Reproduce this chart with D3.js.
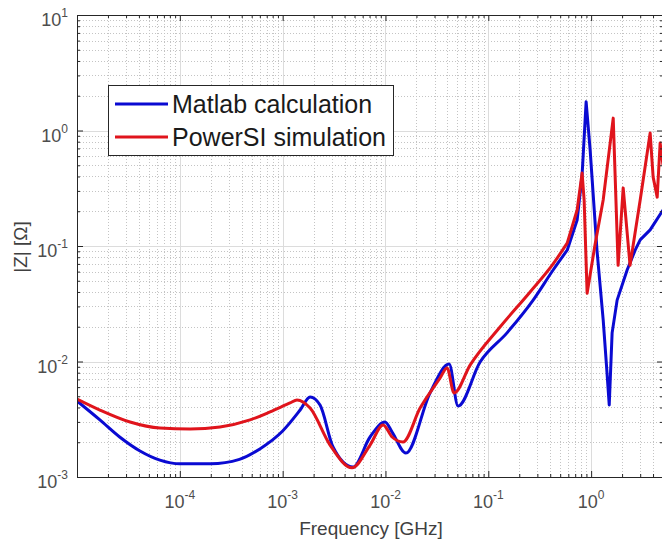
<!DOCTYPE html>
<html>
<head>
<meta charset="utf-8">
<script src="https://cdn.jsdelivr.net/npm/d3@7"></script>
<style>
  body { margin: 0; background: #fff; }
  svg { display: block; font-family: "Liberation Sans", Arial, sans-serif; }
</style>
</head>
<body>
<svg width="662" height="542"></svg>
<script>
// series (frequency in GHz, |Z| in ohm)
var seriesNames = ['Matlab calculation', 'PowerSI simulation'];
var seriesColors = ['#0a0ad2', '#e0141c'];

var matlabFreq = [1e-5, 1.67e-5, 2.6e-5, 4.1e-5, 6.4e-5, 1e-4, 2e-4, 3.8e-4, 6e-4,
    1e-3, 1.48e-3, 1.85e-3, 2.31e-3, 3.09e-3, 4.84e-3, 7.08e-3, 9.9e-3, 0.0116, 0.0158,
    0.0271, 0.0416, 0.0508, 0.0832, 0.152, 0.273, 0.427, 0.585, 0.731, 0.817,
    0.894, 0.978, 1.14, 1.31, 1.42, 1.50, 1.60, 1.79, 2.24, 2.68, 3.0, 3.75, 5.0];
var matlabZ = [4.55e-3, 3.12e-3, 2.22e-3, 1.68e-3, 1.40e-3, 1.30e-3, 1.30e-3, 1.42e-3, 1.75e-3,
    2.5e-3, 3.8e-3, 4.93e-3, 4.2e-3, 1.82e-3, 1.22e-3, 2.22e-3, 2.99e-3, 2.45e-3, 1.61e-3,
    5.33e-3, 9.5e-3, 4.12e-3, 9.9e-3, 0.0177, 0.034, 0.062, 0.092, 0.168, 0.412,
    1.77, 0.678, 0.092, 0.0229, 0.0085, 4.2e-3, 0.0177, 0.034, 0.062, 0.092, 0.113, 0.138, 0.205];

var powersiFreq = [1e-5, 1.67e-5, 3.28e-5, 6.4e-5, 1.26e-4, 2.46e-4, 4.82e-4, 7.54e-4, 1.18e-3, 1.38e-3,
    1.85e-3, 2.89e-3, 4.73e-3, 7.08e-3, 9.48e-3, 0.0116, 0.0148, 0.0217, 0.034, 0.0397,
    0.0465, 0.0665, 0.130, 0.255, 0.427, 0.585, 0.731, 0.817, 0.855, 0.914,
    1.09, 1.31, 1.64, 1.83, 2.05, 2.39, 3.0, 3.75, 4.01, 4.39, 4.69, 5.0];
var powersiZ = [4.73e-3, 3.80e-3, 2.99e-3, 2.65e-3, 2.60e-3, 2.71e-3, 3.12e-3, 3.66e-3, 4.38e-3, 4.65e-3,
    3.95e-3, 1.89e-3, 1.20e-3, 1.89e-3, 2.82e-3, 2.22e-3, 2.01e-3, 3.95e-3, 7.2e-3, 8.8e-3,
    5.33e-3, 9.3e-3, 0.0199, 0.040, 0.070, 0.106, 0.205, 0.428, 0.25, 0.039,
    0.102, 0.25, 1.28, 0.068, 0.318, 0.068, 0.25, 0.95, 0.395, 0.265, 0.78, 0.50];

var xTickExp = [-4, -3, -2, -1, 0];
var yTickExp = [-3, -2, -1, 0, 1];

var svg = d3.select('svg');

// plot box (right edge sits at the border of the picture)
var plot = {l: 77, r: 663, t: 15, b: 477};

var xScale = d3.scaleLog().domain([1e-5, 5]).range([plot.l, plot.r]);
var yScale = d3.scaleLog().domain([1e-3, 10]).range([plot.b, plot.t]);

// minor positions 2..9 of each decade
function minorVals(lo, hi, dmin, dmax) {
    var out = [];
    for (var d = dmin; d <= dmax; d++) {
        for (var k = 2; k <= 9; k++) {
            var v = k * Math.pow(10, d);
            if (v > lo && v < hi) out.push(v);
        }
    }
    return out;
}
var xMajor = [1e-5].concat(xTickExp.map(function(e) { return Math.pow(10, e); }));
var yMajor = yTickExp.map(function(e) { return Math.pow(10, e); });
var xMinor = minorVals(1e-5, 5, -5, 0);
var yMinor = minorVals(1e-3, 10, -3, 0);

// grid
var grid = svg.append('g').attr('class', 'grid');
grid.selectAll('.xminor').data(xMinor).enter().append('line')
    .attr('x1', function(d) { return Math.round(xScale(d)) + 0.5; })
    .attr('x2', function(d) { return Math.round(xScale(d)) + 0.5; })
    .attr('y1', plot.t).attr('y2', plot.b)
    .attr('stroke', '#c4c4c4').attr('stroke-dasharray', '1,2');
grid.selectAll('.yminor').data(yMinor).enter().append('line')
    .attr('y1', function(d) { return Math.round(yScale(d)) + 0.5; })
    .attr('y2', function(d) { return Math.round(yScale(d)) + 0.5; })
    .attr('x1', plot.l).attr('x2', plot.r)
    .attr('stroke', '#c4c4c4').attr('stroke-dasharray', '1,2');
grid.selectAll('.xmajor').data(xMajor.slice(1)).enter().append('line')
    .attr('x1', function(d) { return Math.round(xScale(d)) + 0.5; })
    .attr('x2', function(d) { return Math.round(xScale(d)) + 0.5; })
    .attr('y1', plot.t).attr('y2', plot.b)
    .attr('stroke', '#dcdcdc');
grid.selectAll('.ymajor').data(yMajor.slice(1, -1)).enter().append('line')
    .attr('y1', function(d) { return Math.round(yScale(d)) + 0.5; })
    .attr('y2', function(d) { return Math.round(yScale(d)) + 0.5; })
    .attr('x1', plot.l).attr('x2', plot.r)
    .attr('stroke', '#dcdcdc');

// curves: smooth below the resonances, sharp segments above
svg.append('clipPath').attr('id', 'clip').append('rect')
    .attr('x', plot.l).attr('y', plot.t)
    .attr('width', plot.r - plot.l).attr('height', plot.b - plot.t);

var splitF = 0.73;
var smoothLine = d3.line()
    .curve(d3.curveMonotoneX)
    .x(function(d) { return xScale(d[0]); })
    .y(function(d) { return yScale(d[1]); });
var sharpLine = d3.line()
    .x(function(d) { return xScale(d[0]); })
    .y(function(d) { return yScale(d[1]); });

function curvePath(pts) {
    var lo = pts.filter(function(p) { return p[0] <= splitF; });
    var hi = pts.filter(function(p) { return p[0] > splitF; });
    hi.unshift(lo[lo.length - 1]);
    return smoothLine(lo) + sharpLine(hi).replace(/^M/, 'L');
}

var curves = [d3.zip(matlabFreq, matlabZ), d3.zip(powersiFreq, powersiZ)];
svg.append('g').attr('clip-path', 'url(#clip)')
    .selectAll('path').data(curves).enter().append('path')
    .attr('d', curvePath)
    .attr('fill', 'none')
    .attr('stroke', function(d, i) { return seriesColors[i]; })
    .attr('stroke-width', 3)
    .attr('stroke-linejoin', 'round');

// axes, ticks inward
function noLabel() { return ''; }
var axisCol = '#262626';
[
  [d3.axisBottom(xScale).tickValues(xMajor).tickSize(-6), 'translate(0,' + plot.b + ')'],
  [d3.axisBottom(xScale).tickValues(xMinor).tickSize(-3), 'translate(0,' + plot.b + ')'],
  [d3.axisLeft(yScale).tickValues(yMajor).tickSize(-6), 'translate(' + plot.l + ',0)'],
  [d3.axisLeft(yScale).tickValues(yMinor).tickSize(-3), 'translate(' + plot.l + ',0)'],
  [d3.axisRight(yScale).tickValues(yMajor).tickSize(-6), 'translate(' + plot.r + ',0)'],
  [d3.axisRight(yScale).tickValues(yMinor).tickSize(-3), 'translate(' + plot.r + ',0)'],
  [d3.axisTop(xScale).tickValues(xMajor).tickSize(-6), 'translate(0,' + plot.t + ')'],
  [d3.axisTop(xScale).tickValues(xMinor).tickSize(-3), 'translate(0,' + plot.t + ')']
].forEach(function(a) {
    var g = svg.append('g')
        .attr('transform', a[1])
        .call(a[0].tickSizeOuter(0).tickFormat(noLabel));
    g.selectAll('path, line').attr('stroke', axisCol);
});

// tick labels 10^n
var labCol = '#4d4d4d';
xTickExp.forEach(function(e) {
    var t = svg.append('text')
        .attr('x', xScale(Math.pow(10, e)))
        .attr('y', plot.b + 31)
        .attr('text-anchor', 'middle')
        .attr('fill', labCol)
        .attr('font-size', 18);
    t.append('tspan').text('10');
    t.append('tspan').attr('dy', -9).attr('font-size', 12).text(e);
});
yTickExp.forEach(function(e) {
    var t = svg.append('text')
        .attr('x', 68)
        .attr('y', yScale(Math.pow(10, e)) + 11)
        .attr('text-anchor', 'end')
        .attr('fill', labCol)
        .attr('font-size', 18);
    t.append('tspan').text('10');
    t.append('tspan').attr('dy', -9).attr('font-size', 12).text(e);
});

// axis titles
svg.append('text')
    .attr('x', 371).attr('y', 535)
    .attr('text-anchor', 'middle')
    .attr('fill', '#404040')
    .attr('font-size', 19)
    .text('Frequency [GHz]');

svg.append('text')
    .attr('transform', 'translate(27,247) rotate(-90)')
    .attr('text-anchor', 'middle')
    .attr('fill', '#404040')
    .attr('font-size', 19)
    .text('|Z| [\u03A9]');

// legend
var legend = svg.append('g').attr('transform', 'translate(108,85)');
legend.append('rect')
    .attr('x', 0.5).attr('y', 0.5)
    .attr('width', 285).attr('height', 70)
    .attr('fill', '#fff')
    .attr('stroke', axisCol);
var items = legend.selectAll('g.item').data(seriesNames).enter().append('g')
    .attr('transform', function(d, i) { return 'translate(0,' + (19 + i * 33) + ')'; });
items.append('line')
    .attr('x1', 7).attr('x2', 60)
    .attr('stroke', function(d, i) { return seriesColors[i]; })
    .attr('stroke-width', 3);
items.append('text')
    .attr('x', 64).attr('y', 9)
    .attr('fill', '#1a1a1a')
    .attr('font-size', 25)
    .text(function(d) { return d; });
</script>
</body>
</html>
